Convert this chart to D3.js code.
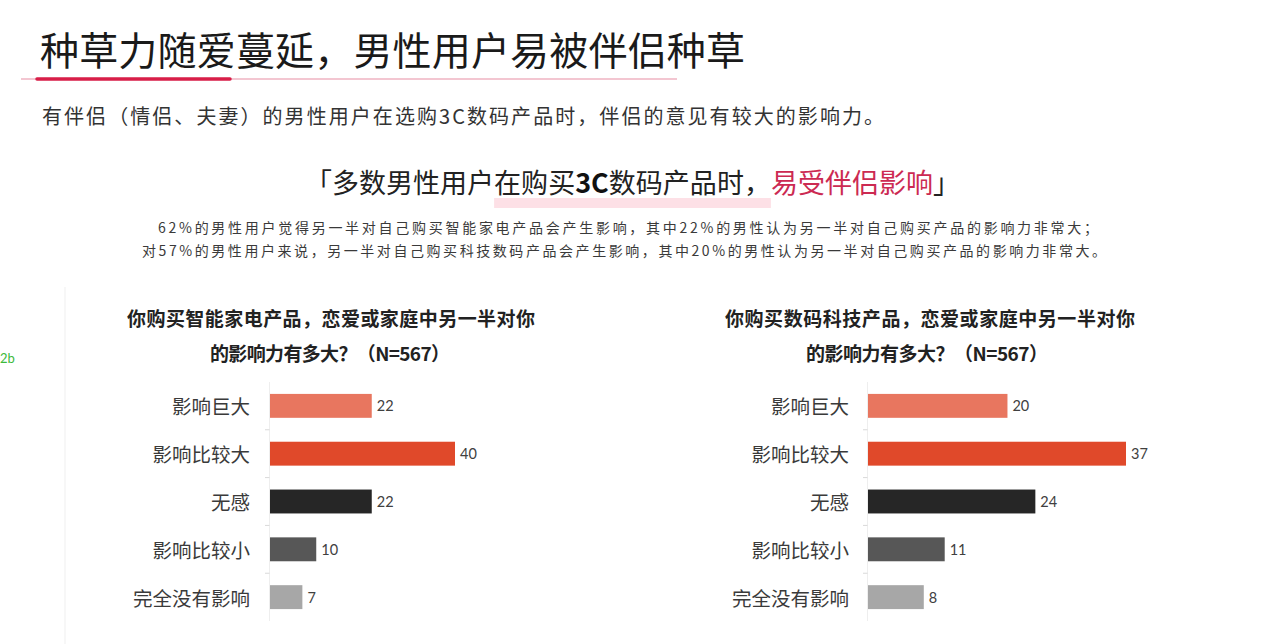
<!DOCTYPE html>
<html>
<head>
<meta charset="utf-8">
<script src="https://cdn.jsdelivr.net/npm/d3@7"></script>
<style>
  html, body { margin: 0; padding: 0; background: #ffffff; }
  svg { display: block; }
</style>
</head>
<body>
<script>
// ---- data ----
const pageTitle = "种草力随爱蔓延，男性用户易被伴侣种草";
const pageSubtitle = "有伴侣（情侣、夫妻）的男性用户在选购3C数码产品时，伴侣的意见有较大的影响力。";
const quoteParts = ["「多数男性用户", "在购买", "3C", "数码产品时，", "易受伴侣影响", "」"];
const noteLines = [
  "62%的男性用户觉得另一半对自己购买智能家电产品会产生影响，其中22%的男性认为另一半对自己购买产品的影响力非常大；",
  "对57%的男性用户来说，另一半对自己购买科技数码产品会产生影响，其中20%的男性认为另一半对自己购买产品的影响力非常大。"
];
const categories = ["影响巨大", "影响比较大", "无感", "影响比较小", "完全没有影响"];
const smartHomeValues = [22, 40, 22, 10, 7];
const digitalValues = [20, 37, 24, 11, 8];
const smartHomeTitle = ["你购买智能家电产品，恋爱或家庭中另一半对你", "的影响力有多大？（N=567）"];
const digitalTitle = ["你购买数码科技产品，恋爱或家庭中另一半对你", "的影响力有多大？（N=567）"];
const barColors = ["#e8765f", "#e0492a", "#262626", "#575757", "#a7a7a7"];

// ---- drawing ----
const W = 1280, H = 644;
const CJK = "'Noto Sans CJK SC', 'Noto Sans', sans-serif";
const svg = d3.select("body").append("svg").attr("width", W).attr("height", H);
svg.append("rect").attr("width", W).attr("height", H).attr("fill", "#ffffff");

// header
svg.append("text").attr("x", 40).attr("y", 48)
  .attr("dominant-baseline", "central")
  .attr("font-family", CJK).attr("font-size", 39).attr("font-weight", 400)
  .attr("fill", "#1a1a1a").attr("textLength", 705).attr("lengthAdjust", "spacing")
  .text(pageTitle);
svg.append("line").attr("x1", 21).attr("x2", 677).attr("y1", 79).attr("y2", 79)
  .attr("stroke", "#f3c6d1").attr("stroke-width", 2);
svg.append("line").attr("x1", 37).attr("x2", 230).attr("y1", 79).attr("y2", 79)
  .attr("stroke", "#d81e48").attr("stroke-width", 3.5).attr("stroke-linecap", "round");

svg.append("text").attr("x", 42).attr("y", 115)
  .attr("dominant-baseline", "central")
  .attr("font-family", CJK).attr("font-size", 20).attr("fill", "#333")
  .attr("textLength", 842).attr("lengthAdjust", "spacing")
  .text(pageSubtitle);

// quote with highlight
const hl = svg.append("rect").attr("fill", "#fde0e6");
const quote = svg.append("text").attr("x", 305).attr("y", 181)
  .attr("dominant-baseline", "central")
  .attr("font-family", CJK).attr("font-size", 27).attr("fill", "#222")
  .attr("textLength", 655).attr("lengthAdjust", "spacing");
quote.append("tspan").text(quoteParts[0]);
quote.append("tspan").text(quoteParts[1]);
quote.append("tspan").attr("font-weight", 700).attr("fill", "#111").text(quoteParts[2]);
quote.append("tspan").text(quoteParts[3]);
quote.append("tspan").attr("fill", "#cc2a52").text(quoteParts[4]);
quote.append("tspan").text(quoteParts[5]);
{
  const node = quote.node();
  const startIdx = quoteParts[0].length;
  const endIdx = quoteParts[0].length + quoteParts[1].length + quoteParts[2].length + quoteParts[3].length - 1;
  const x0 = node.getStartPositionOfChar(startIdx).x;
  const x1 = node.getEndPositionOfChar(endIdx).x;
  hl.attr("x", x0).attr("width", x1 - x0).attr("y", 198).attr("height", 10);
}

svg.append("text").attr("x", 158).attr("y", 227)
  .attr("dominant-baseline", "central")
  .attr("font-family", CJK).attr("font-size", 14).attr("fill", "#3a3a3a")
  .attr("textLength", 940).attr("lengthAdjust", "spacing")
  .text(noteLines[0]);
svg.append("text").attr("x", 142).attr("y", 250)
  .attr("dominant-baseline", "central")
  .attr("font-family", CJK).attr("font-size", 14).attr("fill", "#3a3a3a")
  .attr("textLength", 964).attr("lengthAdjust", "spacing")
  .text(noteLines[1]);

// stray artifacts from the screenshot
svg.append("line").attr("x1", 65).attr("x2", 65).attr("y1", 287).attr("y2", 644)
  .attr("stroke", "#efefef").attr("stroke-width", 1);
svg.append("text").attr("x", 0).attr("y", 358).attr("dominant-baseline", "central")
  .attr("font-family", "Lato, sans-serif").attr("font-size", 13).attr("fill", "#3cba3c")
  .text("2b");

// charts
function drawChart(cfg) {
  const g = svg.append("g");
  const y = d3.scaleBand().domain(categories).range([370, 633]).padding(0.5);
  const x = d3.scaleLinear().domain([0, cfg.max]).range([cfg.x0, cfg.x1]);

  // title
  cfg.title.forEach((t, i) => {
    g.append("text").attr("x", cfg.titleX[i]).attr("y", i === 0 ? 317 : 352)
      .attr("text-anchor", "middle").attr("dominant-baseline", "central")
      .attr("font-family", CJK).attr("font-size", 19).attr("font-weight", 700)
      .attr("fill", "#222")
      .attr("textLength", cfg.titleW[i]).attr("lengthAdjust", "spacing")
      .text(t);
  });

  // axis line + separating ticks
  g.append("line").attr("x1", cfg.x0 - 0.5).attr("x2", cfg.x0 - 0.5)
    .attr("y1", y.range()[0] + 12).attr("y2", y.range()[1] - 12)
    .attr("stroke", "#eeeeee");
  const boundaries = categories.slice(1).map(c => y(c) - y.step() * y.paddingInner() / 2);
  g.selectAll("line.tick").data(boundaries).enter().append("line")
    .attr("class", "tick")
    .attr("x1", cfg.x0 - 5).attr("x2", cfg.x0 - 0.5)
    .attr("y1", d => d).attr("y2", d => d)
    .attr("stroke", "#d9d9d9");

  // category labels via axis
  const axis = d3.axisLeft(y).tickSize(0).tickPadding(cfg.x0 - cfg.labelRight);
  const ag = g.append("g").attr("transform", `translate(${cfg.x0},0)`).call(axis);
  ag.select(".domain").remove();
  ag.selectAll("text").attr("font-family", CJK).attr("font-size", 19.5)
    .attr("fill", "#3a3a3a").attr("dy", null).attr("dominant-baseline", "central");

  // bars
  g.selectAll("rect.bar").data(cfg.values).enter().append("rect")
    .attr("class", "bar")
    .attr("x", x(0))
    .attr("y", (d, i) => y(categories[i]))
    .attr("width", d => x(d) - x(0))
    .attr("height", y.bandwidth())
    .attr("fill", (d, i) => barColors[i]);

  // value labels
  g.selectAll("text.val").data(cfg.values).enter().append("text")
    .attr("class", "val")
    .attr("x", d => x(d) + 5)
    .attr("y", (d, i) => y(categories[i]) + y.bandwidth() / 2)
    .attr("dominant-baseline", "central")
    .attr("font-family", "Lato, 'Open Sans', sans-serif").attr("font-size", 14.5)
    .attr("fill", "#404040")
    .text(d => d);
}

drawChart({ values: smartHomeValues, title: smartHomeTitle, max: 40, x0: 270, x1: 455,
  labelRight: 250, titleX: [331, 330], titleW: [408, 240] });
drawChart({ values: digitalValues, title: digitalTitle, max: 37, x0: 868, x1: 1126,
  labelRight: 849, titleX: [930, 927], titleW: [410, 242] });
</script>
</body>
</html>
